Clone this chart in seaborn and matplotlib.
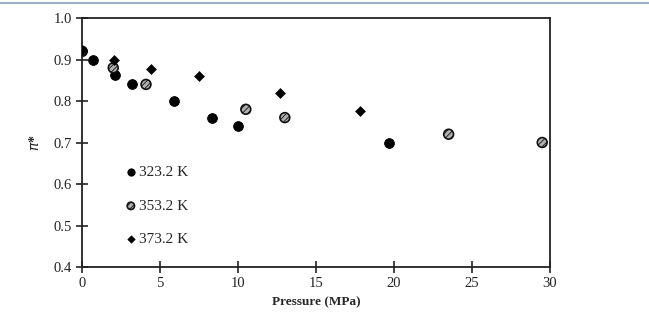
import pandas as pd
import seaborn as sns
import matplotlib.pyplot as plt
from matplotlib.lines import Line2D

# dados
p_323 = [0.0, 0.7, 2.1, 3.2, 5.9, 8.3, 10.0, 19.7]
pi_323 = [0.92, 0.90, 0.862, 0.84, 0.80, 0.76, 0.74, 0.70]

p_353 = [0.0, 2.0, 4.1, 10.5, 13.0, 23.5, 29.5]
pi_353 = [0.92, 0.88, 0.84, 0.78, 0.76, 0.72, 0.70]

p_373 = [0.0, 2.05, 4.4, 7.5, 12.7, 17.8]
pi_373 = [0.922, 0.898, 0.877, 0.86, 0.82, 0.777]

labels = ["323.2 K", "353.2 K", "373.2 K"]

df = pd.concat([
    pd.DataFrame({"P": p_323, "pi": pi_323, "T": labels[0]}),
    pd.DataFrame({"P": p_353, "pi": pi_353, "T": labels[1]}),
    pd.DataFrame({"P": p_373, "pi": pi_373, "T": labels[2]}),
])

sns.set_style("white")
plt.rcParams["font.family"] = ["Liberation Serif", "DejaVu Serif"]
plt.rcParams["hatch.linewidth"] = 0.6

fig = plt.figure(figsize=(6.49, 3.12), dpi=100)
ax = fig.add_axes([0.1264, 0.1442, 0.7211, 0.7981])

# 323.2 K - círculos pretos
sns.scatterplot(data=df[df["T"] == labels[0]], x="P", y="pi", ax=ax, marker="o",
                color="black", edgecolor="black", s=50, label=labels[0], zorder=3)
# 353.2 K - círculos cinza hachurados
sns.scatterplot(data=df[df["T"] == labels[1]], x="P", y="pi", ax=ax, marker="o",
                color="#b0b0b0", edgecolor="#111111", linewidth=1.2, hatch="//////",
                s=50, label=labels[1], zorder=3)
# 373.2 K - losangos
sns.scatterplot(data=df[df["T"] == labels[2]], x="P", y="pi", ax=ax, marker="D",
                color="black", edgecolor="black", s=26, label=labels[2], zorder=4)

ax.set_xlim(0, 30)
ax.set_ylim(0.4, 1.0)
ax.set_xticks([0, 5, 10, 15, 20, 25, 30])
ax.set_yticks([0.4, 0.5, 0.6, 0.7, 0.8, 0.9, 1.0])
ax.set_yticklabels(["0.4", "0.5", "0.6", "0.7", "0.8", "0.9", "1.0"])
ax.tick_params(direction="inout", length=8, width=1.2, labelsize=10.5,
               bottom=True, left=True, colors="#222222")
for s in ax.spines.values():
    s.set_color("#222222")
    s.set_linewidth(1.3)

ax.set_xlabel("Pressure (MPa)", fontsize=9.5, fontweight="bold", labelpad=4)
ax.set_ylabel(r"$\pi$*", fontsize=10, fontweight="bold", labelpad=8)

leg = ax.legend(loc="center left", bbox_to_anchor=(0.088, 0.245), frameon=False,
                fontsize=11, labelspacing=1.3, handlelength=1.0, handletextpad=0.05,
                borderaxespad=0, borderpad=0, markerscale=0.75)

# linha azulada no topo da página
fig.add_artist(Line2D([0, 1], [0.99, 0.99], color="#9bb0c4", linewidth=1.5))

plt.savefig("out.png", dpi=100)
